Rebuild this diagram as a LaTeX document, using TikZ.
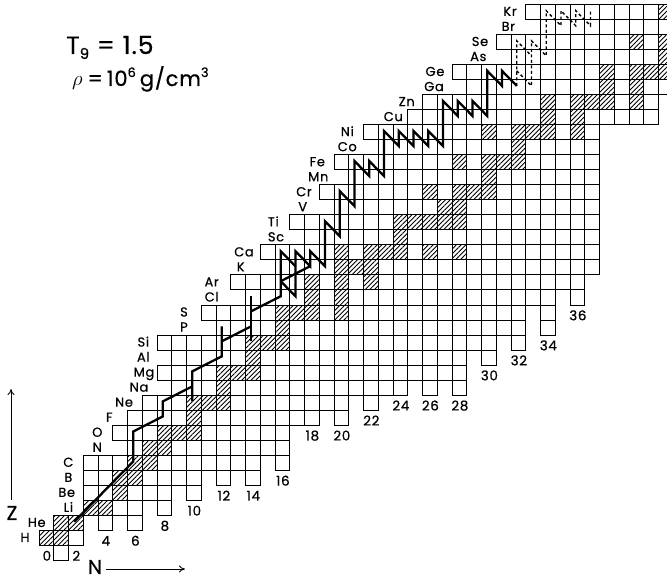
\documentclass[tikz,border=0pt]{standalone}
\usepackage{fontspec}
\setmainfont{Poppins}
\newfontfamily\labfont[LetterSpace=5,FakeBold=0.6]{Poppins}
\newfontfamily\titfont[LetterSpace=4,FakeBold=0.6]{Poppins}
\usetikzlibrary{patterns.meta,arrows.meta}
\newcommand\cellxy[2]{%
  \pgfmathsetmacro\xa{round(38.5+14.75*#1)+0.5}%
  \pgfmathsetmacro\xb{round(38.5+14.75*(#1+1))+0.5}%
  \pgfmathsetmacro\ya{round(560.03-15.03*#2)+0.5}%
  \pgfmathsetmacro\yb{round(560.03-15.03*(#2+1))+0.5}}
\begin{document}
\begin{tikzpicture}[x=1pt,y=-1pt,
  cellline/.style={line width=1.35pt},
  hatch/.style={pattern={Lines[angle=45,distance=3.3pt,line width=0.9pt]}},
  flow/.style={line width=2.3pt,line join=miter,miter limit=4},
  weak/.style={line width=1.4pt,dash pattern=on 3pt off 2.5pt},
  elem/.style={font=\labfont\fontsize{13}{13}\selectfont,inner sep=0pt,text height=9pt,text depth=0pt},
  num/.style={font=\labfont\fontsize{13.5}{13.5}\selectfont,inner sep=0pt,text height=9.5pt,text depth=0pt},
  axlab/.style={font=\titfont\fontsize{20}{20}\selectfont,inner sep=0pt},
  axarrow/.style={line width=0.9pt,-{To[length=6pt,width=7pt]}}
]
\useasboundingbox (0,0) rectangle (667,580);
\fill[white] (0,0) rectangle (667,580);
\begin{scope}
\clip (0,0) rectangle (667,580);
  % stable nuclei (hatched)
  \foreach \n/\z in {0/1,1/1,1/2,2/2,3/3,4/3,5/4,5/5,6/5,6/6,7/6,7/7,8/7,8/8,9/8,10/8,10/9,
     10/10,11/10,12/10,12/11,12/12,13/12,14/12,14/13,14/14,15/14,16/14,16/15,
     16/16,17/16,18/16,20/16,18/17,20/17,18/18,20/18,22/18,20/19,21/19,22/19,
     20/20,22/20,23/20,24/20,26/20,28/20,24/21,24/22,25/22,26/22,27/22,28/22,
     27/23,28/23,26/24,28/24,29/24,30/24,30/25,28/26,30/26,31/26,32/26,32/27,
     30/28,32/28,33/28,34/28,36/28,34/29,36/29,34/30,36/30,37/30,38/30,40/30,
     38/31,40/31,38/32,40/32,41/32,42/32,42/33,40/34,42/34,42/36}
     {\cellxy{\n}{\z}\fill[hatch] (\xa,\ya) rectangle (\xb,\yb);}
  % rows of the network
  \foreach \z/\a/\b in {0/1/1,1/0/2,2/1/2,3/3/6,4/3/8,5/3/10,6/3/14,7/6/16,8/5/16,
     9/6/18,10/7/20,11/9/24,12/8/28,13/9/28,14/8/30,15/12/32,16/11/32,17/14/34,
     18/13/36,19/16/37,20/15/37,21/18/37,22/17/37,23/20/37,24/19/37,25/21/37,
     26/20/37,27/23/37,28/22/37,29/25/41,30/26/41,31/29/42,32/28/42,33/32/42,
     34/31/42,35/34/42,36/33/42}
     {\foreach \n in {\a,...,\b} {\cellxy{\n}{\z}\draw[cellline] (\xa,\ya) rectangle (\xb,\yb);}}
  % isolated even-N cells at the neutron-rich edge
  \foreach \n/\z in {4/2,6/2,8/3,10/4,12/5,14/5,16/6,20/9,22/10,26/11,28/11,
     30/13,32/14,34/15,34/16,36/17}
     {\cellxy{\n}{\z}\draw[cellline] (\xa,\ya) rectangle (\xb,\yb);}
  % reaction flow
  \begin{scope}[shift={(38.5,560.03)},x=14.75pt,y=15.03pt]
  \begin{scope}[shift={(0.42,0.55)}]
    \draw[flow] (2,2)--(6,6)--(6,8)--(8,9)--(8,10)--(10,11);
    \draw[flow] (10,10)--(10,12)--(12,13)--(12,15);
    \draw[flow] (12,14)--(14,15);
    \draw[flow] (14,14)--(14,17);
    \draw[flow] (14,16)--(16,17)--(16,20)--(17,19);
    \draw[flow] (16,18)--(18,19);
    \draw[flow] (16,18)--(17,17)--(17,20)--(18,19)--(18,20)--(19,19)--(19,22)--(20,21)
      --(20,24)--(21,23)--(21,26)--(22,25)--(22,26)--(23,25)--(23,28)--(24,27)--(24,28)
      --(25,27)--(25,28)--(26,27)--(26,28)--(27,27)--(27,30)--(28,29)--(28,30)--(29,29)
      --(29,30)--(30,29)--(30,32)--(31,31)--(31,32)--(32,31);
    \draw[weak] (32,31)--(32,34)--(33,33);
    \draw[weak] (32,32)--(33,31)--(33,34)--(34,33)--(34,36)--(35,35)--(35,36)--(36,35)
      --(36,36)--(37,35)--(37,36);
  \end{scope}
  \end{scope}
\end{scope}
% element labels
\foreach \s/\x/\z in {H/25/1,He/36.7/2,Li/68.3/3,Be/66.7/4,B/68.3/5,C/68.3/6,N/97.3/7,
   O/97.3/8,F/109.3/9,Ne/124/10,Na/139/11,Mg/144/12,Al/143.3/13,Si/143.3/14,P/184/15,
   S/184/16,Cl/211.7/17,Ar/211.7/18,K/240.7/19,Ca/244/20,Sc/276/21,Ti/273.3/22,
   V/302.7/23,Cr/304/24,Mn/318.3/25,Fe/317.3/26,Co/347.3/27,Ni/347.3/28,Cu/393.3/29,
   Zn/406.7/30,Ga/434/31,Ge/435/32,As/478.3/33,Se/480/34,Br/508.3/35,Kr/510/36}
   \node[elem] (e\s) at (\x,{552.5-15.03*\z}) {\s};
% neutron numbers
\foreach \n/\b in {0/1,2/1,4/2,6/2,8/3,10/4,12/5,14/5,16/6,18/9,20/9,22/10,24/11,
   26/11,28/11,30/13,32/14,34/15,36/17}
   \node[num] (n\n) at ({38.5+14.75*(\n+0.5)+1},{571-15.03*\b}) {\n};
% axes
\node[axlab] (zlab) at (12,513) {Z};
\coordinate (zfoot) at (11,500);
\coordinate (ztip) at (11,389);
\draw[axarrow] (zfoot) -- (ztip);
\node[axlab] (nlab) at (95,567) {N};
\coordinate (nfoot) at (106,569);
\coordinate (ntip) at (185,569);
\draw[axarrow] (nfoot) -- (ntip);
% conditions
\node[anchor=base west,inner sep=0pt,font=\titfont\fontsize{25}{25}\selectfont] (temp) at (66,54)
  {T\raisebox{-5pt}{\fontsize{15}{15}\selectfont 9} = 1.5};
\node[anchor=base west,inner sep=0pt,font=\titfont\fontsize{21}{21}\selectfont] (dens) at (72,86)
  {$\rho$\hspace{5pt}=\hspace{4pt}10\raisebox{9pt}{\fontsize{13}{13}\selectfont 6}\hspace{4pt}g/cm\raisebox{9pt}{\fontsize{13}{13}\selectfont 3}};
\end{tikzpicture}
\end{document}
